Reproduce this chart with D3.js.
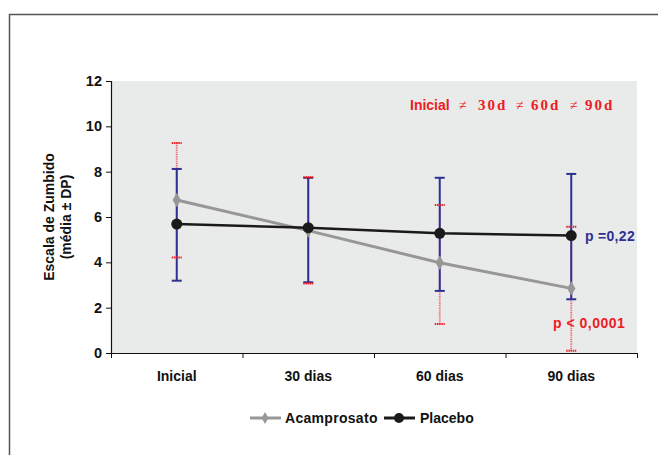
<!DOCTYPE html>
<meta charset="utf-8">
<style>
body { margin: 0; background: #fff; }
text { font-family: "Liberation Sans", Arial, sans-serif; font-weight: bold; }
</style>
<body>
<script src="https://d3js.org/d3.v7.min.js"></script>
<script>

var categories = ["Inicial", "30 dias", "60 dias", "90 dias"];
var acampMean = [6.75, 5.4, 3.98, 2.85];
var acampLow  = [4.21, 3.07, 1.28, 0.1];
var acampHigh = [9.26, 7.75, 6.53, 5.57];
var placMean = [5.69, 5.53, 5.28, 5.18];
var placLow  = [3.19, 3.12, 2.74, 2.37];
var placHigh = [8.12, 7.73, 7.73, 7.9];
var yTicks = [0, 2, 4, 6, 8, 10, 12];

var width = 658, height = 455;
var margin = {top: 81, right: 21, bottom: 102, left: 111};

var svg = d3.select("body").append("svg")
    .attr("width", width)
    .attr("height", height);

// outer frame
svg.append("path")
    .attr("d", "M9.5," + height + "V14.5H" + width)
    .attr("fill", "none")
    .attr("stroke", "#555")
    .attr("stroke-width", 1.5);

var x = d3.scaleBand()
    .domain(categories)
    .range([margin.left, width - margin.right]);

var y = d3.scaleLinear()
    .domain([0, 12])
    .range([height - margin.bottom, margin.top]);

// plot background
svg.append("rect")
    .attr("x", margin.left)
    .attr("y", margin.top)
    .attr("width", width - margin.right - margin.left)
    .attr("height", y(0) - margin.top)
    .attr("fill", "#e9eaea");

// y axis
var yAxis = svg.append("g")
    .attr("transform", "translate(" + margin.left + ",0)")
    .call(d3.axisLeft(y).tickValues(yTicks).tickSize(5).tickPadding(4));
yAxis.select(".domain").attr("stroke", "#111").attr("stroke-width", 1.2);
yAxis.selectAll(".tick line").attr("stroke", "#111");
yAxis.selectAll("text").attr("font-size", 14.5).attr("fill", "#111")
    .style("font-family", "'Liberation Sans', Arial, sans-serif").style("font-weight", "bold");

// x axis: ticks at band boundaries, labels at centers
var xAxis = svg.append("g");
xAxis.append("line")
    .attr("x1", margin.left).attr("x2", width - margin.right)
    .attr("y1", y(0) + 0.5).attr("y2", y(0) + 0.5)
    .attr("stroke", "#111").attr("stroke-width", 1.2);
var bounds = categories.map(function(c) { return x(c); }).concat([x(categories[3]) + x.bandwidth()]);
xAxis.selectAll(".tk").data(bounds).enter().append("line")
    .attr("x1", function(d) { return d + 0.5; })
    .attr("x2", function(d) { return d + 0.5; })
    .attr("y1", y(0)).attr("y2", y(0) + 5)
    .attr("stroke", "#111");
xAxis.selectAll(".lbl").data(categories).enter().append("text")
    .attr("x", function(d) { return x(d) + x.bandwidth() / 2; })
    .attr("y", y(0) + 28)
    .attr("text-anchor", "middle")
    .attr("font-size", 14)
    .attr("fill", "#111")
    .text(function(d) { return d; });

// y label
var yl = svg.append("text")
    .attr("transform", "translate(54,217) rotate(-90)")
    .attr("text-anchor", "middle")
    .attr("font-size", 14)
    .attr("fill", "#111");
yl.append("tspan").attr("x", 0).attr("dy", 0).text("Escala de Zumbido");
yl.append("tspan").attr("x", 0).attr("dy", 17).text("(média ± DP)");

var cx = function(i) { return x(categories[i]) + x.bandwidth() / 2; };
var capW = 5;

// acamprosato error bars (red dotted), under the blue ones
var ae = svg.append("g").attr("stroke", "#f0606a").attr("stroke-width", 1.8).attr("stroke-dasharray", "1,0.8");
categories.forEach(function(c, i) {
  ae.append("line").attr("x1", cx(i)).attr("x2", cx(i)).attr("y1", y(acampLow[i])).attr("y2", y(acampHigh[i]));
});

// placebo error bars (blue)
var pe = svg.append("g").attr("stroke", "#2e3192").attr("stroke-width", 2);
categories.forEach(function(c, i) {
  pe.append("line").attr("x1", cx(i)).attr("x2", cx(i)).attr("y1", y(placLow[i])).attr("y2", y(placHigh[i]));
  [placLow[i], placHigh[i]].forEach(function(v) {
    pe.append("line").attr("x1", cx(i) - capW).attr("x2", cx(i) + capW).attr("y1", y(v)).attr("y2", y(v));
  });
});

// red caps on top
var ac = svg.append("g").attr("stroke", "#ed1c24").attr("stroke-width", 2).attr("stroke-dasharray", "1.5,0.7");
categories.forEach(function(c, i) {
  [acampLow[i], acampHigh[i]].forEach(function(v) {
    ac.append("line").attr("x1", cx(i) - capW).attr("x2", cx(i) + capW).attr("y1", y(v)).attr("y2", y(v));
  });
});

var line = d3.line()
    .x(function(d, i) { return cx(i); })
    .y(function(d) { return y(d); });

// acamprosato line + diamonds
svg.append("path").datum(acampMean)
    .attr("d", line).attr("fill", "none")
    .attr("stroke", "#979797").attr("stroke-width", 3);
svg.selectAll(".dia").data(acampMean).enter().append("path")
    .attr("d", d3.symbol(d3.symbolDiamond, 60))
    .attr("transform", function(d, i) { return "translate(" + cx(i) + "," + y(d) + ")"; })
    .attr("fill", "#979797");

// placebo line + circles
svg.append("path").datum(placMean)
    .attr("d", line).attr("fill", "none")
    .attr("stroke", "#1a1a1a").attr("stroke-width", 2.5);
svg.selectAll(".dot").data(placMean).enter().append("circle")
    .attr("cx", function(d, i) { return cx(i); })
    .attr("cy", function(d) { return y(d); })
    .attr("r", 5.5)
    .attr("fill", "#1a1a1a");

// annotations
var serif = "'Liberation Serif', 'Times New Roman', serif";
var ann = svg.append("g").attr("fill", "#ed1c24");
ann.append("text").attr("x", 410).attr("y", 110).attr("font-size", 14).text("Inicial");
[["≠", 459, false], ["30d", 478, true], ["≠", 516, false], ["60d", 531, true], ["≠", 570, false], ["90d", 585, true]]
  .forEach(function(p) {
    ann.append("text").attr("x", p[1]).attr("y", 110)
      .style("font-family", serif)
      .style("font-weight", p[2] ? "bold" : "normal")
      .attr("font-size", p[2] ? 15 : 14)
      .attr("letter-spacing", p[2] ? 2 : 0)
      .text(p[0]);
  });

svg.append("text")
    .attr("x", 585).attr("y", 241)
    .attr("font-size", 14)
    .attr("letter-spacing", 0.3)
    .attr("fill", "#2e3192")
    .text("p =0,22");

svg.append("text")
    .attr("x", 553).attr("y", 328)
    .attr("font-size", 14)
    .attr("letter-spacing", 0.5)
    .attr("fill", "#ed1c24")
    .text("p < 0,0001");

// legend
var lg = svg.append("g").attr("transform", "translate(0,418)");
lg.append("line").attr("x1", 250).attr("x2", 281).attr("y1", 0).attr("y2", 0)
    .attr("stroke", "#979797").attr("stroke-width", 3);
lg.append("path").attr("d", d3.symbol(d3.symbolDiamond, 40))
    .attr("transform", "translate(265,0)").attr("fill", "#979797");
lg.append("text").attr("x", 285).attr("y", 5).attr("font-size", 14).attr("letter-spacing", 0.3)
    .attr("fill", "#111").text("Acamprosato");
lg.append("line").attr("x1", 384).attr("x2", 415).attr("y1", 0).attr("y2", 0)
    .attr("stroke", "#1a1a1a").attr("stroke-width", 3);
lg.append("circle").attr("cx", 399).attr("cy", 0).attr("r", 5).attr("fill", "#1a1a1a");
lg.append("text").attr("x", 420).attr("y", 5).attr("font-size", 14)
    .attr("fill", "#111").text("Placebo");

</script>
</body>
